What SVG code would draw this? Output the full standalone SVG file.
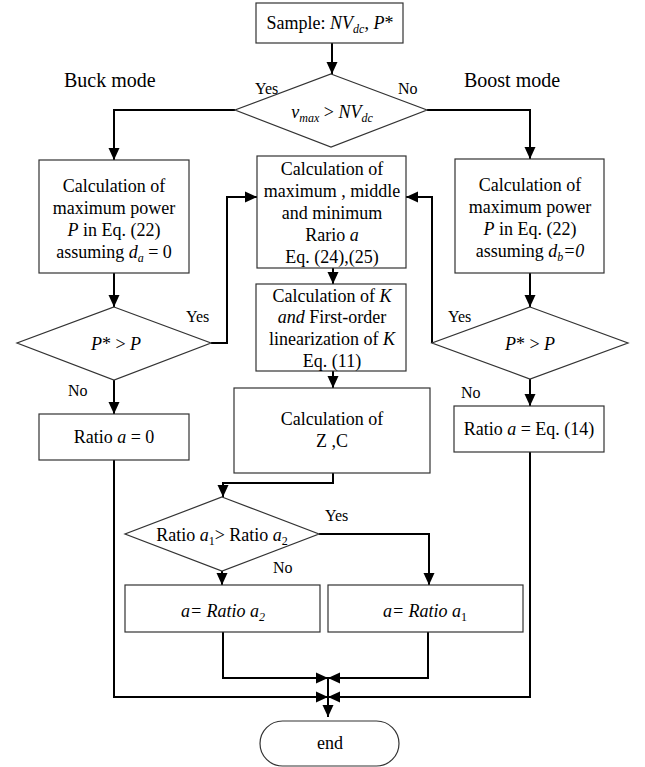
<svg xmlns="http://www.w3.org/2000/svg" width="645" height="767" viewBox="0 0 645 767">
<defs>
<marker id="ah" markerUnits="userSpaceOnUse" markerWidth="12" markerHeight="12" viewBox="0 0 12 12" refX="12" refY="6" orient="auto">
<path d="M0,0.5 L12,6 L0,11.5 z" fill="#000"/>
</marker>
<style>
.box{fill:#fff;stroke:#333;stroke-width:1.2}
text{font-family:'Liberation Serif','DejaVu Serif',serif}
.t{font-size:18px;fill:#000;text-anchor:middle}
.lbl{font-size:16px;fill:#000}
.mode{font-size:20px;fill:#000}
.i{font-style:italic}
.sub{font-size:12px}
.c{fill:none;stroke:#000;stroke-width:2}
</style>
</defs>
<rect width="645" height="767" fill="#fff"/>

<g id="connectors">
<path class="c" d="M332,43 V74" marker-end="url(#ah)"/>
<path class="c" d="M235,110 H114 V160" marker-end="url(#ah)"/>
<path class="c" d="M427,110 H530 V159" marker-end="url(#ah)"/>
<path class="c" d="M114,273 V307" marker-end="url(#ah)"/>
<path class="c" d="M530,273 V307" marker-end="url(#ah)"/>
<path class="c" d="M211,343 H227 V197 H257" marker-end="url(#ah)"/>
<path class="c" d="M432,343 V197 H406" marker-end="url(#ah)"/>
<path class="c" d="M114,380 V414" marker-end="url(#ah)"/>
<path class="c" d="M530,379 V406" marker-end="url(#ah)"/>
<path class="c" d="M333,268 V284" marker-end="url(#ah)"/>
<path class="c" d="M333,371 V388" marker-end="url(#ah)"/>
<path class="c" d="M333,473 V483 H223 V497" marker-end="url(#ah)"/>
<path class="c" d="M319,534 H429 V585" marker-end="url(#ah)"/>
<path class="c" d="M222,571 V585" marker-end="url(#ah)"/>
<path class="c" d="M223,632 V678 H328" marker-end="url(#ah)"/>
<path class="c" d="M428,632 V678 H328" marker-end="url(#ah)"/>
<path class="c" d="M114,460 V697 H328" marker-end="url(#ah)"/>
<path class="c" d="M530,452 V697 H328" marker-end="url(#ah)"/>
<path class="c" d="M328,678 V717" marker-end="url(#ah)"/>
</g>

<g id="labels">
<text class="mode" x="64" y="87">Buck mode</text>
<text class="mode" x="464" y="87">Boost mode</text>
<text class="lbl" x="255" y="94">Yes</text>
<text class="lbl" x="398" y="94">No</text>
<text class="lbl" x="186" y="322">Yes</text>
<text class="lbl" x="68" y="396">No</text>
<text class="lbl" x="448" y="322">Yes</text>
<text class="lbl" x="461" y="398">No</text>
<text class="lbl" x="325" y="521">Yes</text>
<text class="lbl" x="273" y="573">No</text>
</g>

<g id="sample">
<rect class="box" x="256" y="3" width="147" height="40"/>
<text class="t" x="330" y="29">Sample: <tspan class="i">NV</tspan><tspan class="i sub" dy="4">dc</tspan><tspan dy="-4">, </tspan><tspan class="i">P</tspan>*</text>
</g>

<g id="decision-vmax">
<polygon class="box" points="331,74 427,110 331,147 235,110"/>
<text class="t" x="332" y="118"><tspan class="i">v</tspan><tspan class="i sub" dy="4">max</tspan><tspan dy="-4"> &gt; </tspan><tspan class="i">NV</tspan><tspan class="i sub" dy="4">dc</tspan></text>
</g>

<g id="buck-power">
<rect class="box" x="39" y="160" width="150" height="113"/>
<text class="t" x="114" y="192">Calculation of</text>
<text class="t" x="114" y="214">maximum power</text>
<text class="t" x="114" y="236"><tspan class="i">P</tspan> in Eq. (22)</text>
<text class="t" x="114" y="258">assuming <tspan class="i">d</tspan><tspan class="i sub" dy="4">a</tspan><tspan dy="-4"> = 0</tspan></text>
</g>

<g id="boost-power">
<rect class="box" x="455" y="159" width="149" height="114"/>
<text class="t" x="530" y="191">Calculation of</text>
<text class="t" x="530" y="213">maximum power</text>
<text class="t" x="530" y="235"><tspan class="i">P</tspan> in Eq. (22)</text>
<text class="t" x="530" y="257">assuming <tspan class="i">d</tspan><tspan class="i sub" dy="4">b</tspan><tspan class="i" dy="-4">=0</tspan></text>
</g>

<g id="ratio-calc">
<rect class="box" x="257" y="156" width="149" height="112"/>
<text class="t" x="332" y="175">Calculation of</text>
<text class="t" x="332" y="197">maximum , middle</text>
<text class="t" x="332" y="219">and minimum</text>
<text class="t" x="332" y="241">Rario <tspan class="i">a</tspan></text>
<text class="t" x="332" y="263">Eq. (24),(25)</text>
</g>

<g id="buck-decision">
<polygon class="box" points="114,307 211,343 114,380 17,343"/>
<text class="t" x="116" y="350"><tspan class="i">P</tspan>* &gt; <tspan class="i">P</tspan></text>
</g>

<g id="boost-decision">
<polygon class="box" points="530,307 628,343 530,379 432,343"/>
<text class="t" x="530" y="350"><tspan class="i">P</tspan>* &gt; <tspan class="i">P</tspan></text>
</g>

<g id="k-calc">
<rect class="box" x="256" y="284" width="150" height="87"/>
<text class="t" x="332" y="302">Calculation of <tspan class="i">K</tspan></text>
<text class="t" x="332" y="323"><tspan class="i">and</tspan> First-order</text>
<text class="t" x="332" y="345">linearization of <tspan class="i">K</tspan></text>
<text class="t" x="332" y="367">Eq. (11)</text>
</g>

<g id="buck-ratio">
<rect class="box" x="39" y="414" width="150" height="46"/>
<text class="t" x="114" y="443">Ratio <tspan class="i">a</tspan> = 0</text>
</g>

<g id="boost-ratio">
<rect class="box" x="454" y="406" width="150" height="46"/>
<text class="t" x="529" y="435">Ratio <tspan class="i">a</tspan> = Eq. (14)</text>
</g>

<g id="zc-calc">
<rect class="box" x="234" y="388" width="196" height="85"/>
<text class="t" x="332" y="425">Calculation of</text>
<text class="t" x="332" y="447">Z ,C</text>
</g>

<g id="compare">
<polygon class="box" points="222,497 319,534 222,571 125,534"/>
<text class="t" x="222" y="541">Ratio <tspan class="i">a</tspan><tspan class="sub" dy="4">1</tspan><tspan dy="-4">&gt; Ratio </tspan><tspan class="i">a</tspan><tspan class="sub" dy="4">2</tspan></text>
</g>

<g id="a-ratio2">
<rect class="box" x="125" y="585" width="195" height="47"/>
<text class="t i" x="223" y="617">a= Ratio a<tspan class="sub" dy="4">2</tspan></text>
</g>

<g id="a-ratio1">
<rect class="box" x="328" y="585" width="195" height="47"/>
<text class="t i" x="425" y="617">a= Ratio a<tspan class="sub" dy="4" font-style="normal">1</tspan></text>
</g>

<g id="end">
<rect class="box" x="260" y="721" width="139" height="45" rx="22.5" ry="22.5"/>
<text class="t" x="330" y="749">end</text>
</g>
</svg>
